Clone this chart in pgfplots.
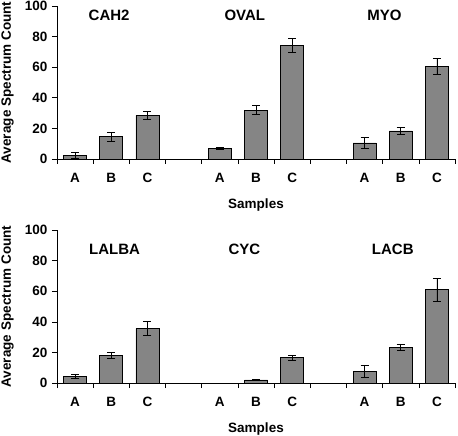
\documentclass[border=0pt]{standalone}
\usepackage{pgfplots}
\usepackage{pgfplotstable}
\pgfplotsset{compat=1.18}
\usepackage{fontspec}
\setmainfont{Liberation Sans}
\pgfplotstableread{
x y e
0 2.3 1.7
1 14.5 2.8
2 28.5 2.8
4 7.0 0.8
5 32.0 3.0
6 74.0 4.5
8 10.5 3.5
9 18.3 2.3
10 60.5 5.0
}\toptab
\pgfplotstableread{
x y e
0 4.3 1.0
1 18.2 1.8
2 35.5 4.7
5 2.0 0.4
6 16.5 1.8
8 7.8 4.0
9 23.3 2.2
10 61.0 7.5
}\bottab
\pgfplotsset{
 myax/.style={
  scale only axis, width=398bp, height=153bp,
  xmin=-0.5, xmax=10.5, ymin=0, ymax=100,
  axis x line*=bottom, axis y line*=left,
  axis line style={black, line width=0.7pt, -},
  ytick={0,20,...,100},
  xtick={-0.5,0.5,...,10.5},
  xticklabels={},
  extra x ticks={0,...,10},
  extra x tick labels={A,B,C,,A,B,C,,A,B,C},
  extra x tick style={tick style={draw=none}},
  tick align=outside,
  major tick length=5bp,
  tick style={black, line width=0.6pt},
  /pgf/number format/assume math mode=true,
  ticklabel style={font=\fontsize{13.5bp}{15bp}\selectfont\bfseries},
  xticklabel style={anchor=center, yshift=-14bp},
  yticklabel style={xshift=-1bp},
  label style={font=\fontsize{13.5bp}{15bp}\selectfont\bfseries},
  ylabel={Average Spectrum Count},
  xlabel={Samples},
  every axis y label/.append style={at={(axis description cs:-0.124,0.5)}, anchor=center},
  every axis x label/.append style={at={(axis description cs:0.5,-0.30)}, anchor=center},
  clip=false,
 },
 mybar/.style={
  ybar, bar width=23bp, fill=black!48, draw=black, line width=0.7pt,
  error bars/.cd, y dir=both, y explicit,
  error bar style={black, line width=0.8pt},
  error mark options={rotate=90, mark size=4bp, black, line width=0.8pt},
 },
}
\begin{document}
\begin{tikzpicture}
\path[use as bounding box] (0,0) rectangle (458bp,436bp);
\begin{axis}[myax, at={(57bp,277bp)}, anchor=south west]
\addplot[mybar] table[x=x, y=y, y error=e] {\toptab};
\node[font=\fontsize{15bp}{17bp}\selectfont\bfseries] at (axis cs:0.94,93.8) {CAH2};
\node[font=\fontsize{15bp}{17bp}\selectfont\bfseries] at (axis cs:4.69,93.8) {OVAL};
\node[font=\fontsize{15bp}{17bp}\selectfont\bfseries] at (axis cs:8.55,93.8) {MYO};
\end{axis}
\begin{axis}[myax, at={(57bp,53bp)}, anchor=south west]
\addplot[mybar] table[x=x, y=y, y error=e] {\bottab};
\node[font=\fontsize{15bp}{17bp}\selectfont\bfseries] at (axis cs:1.09,87.6) {LALBA};
\node[font=\fontsize{15bp}{17bp}\selectfont\bfseries] at (axis cs:4.68,87.6) {CYC};
\node[font=\fontsize{15bp}{17bp}\selectfont\bfseries] at (axis cs:8.78,87.6) {LACB};
\end{axis}
\end{tikzpicture}
\end{document}
